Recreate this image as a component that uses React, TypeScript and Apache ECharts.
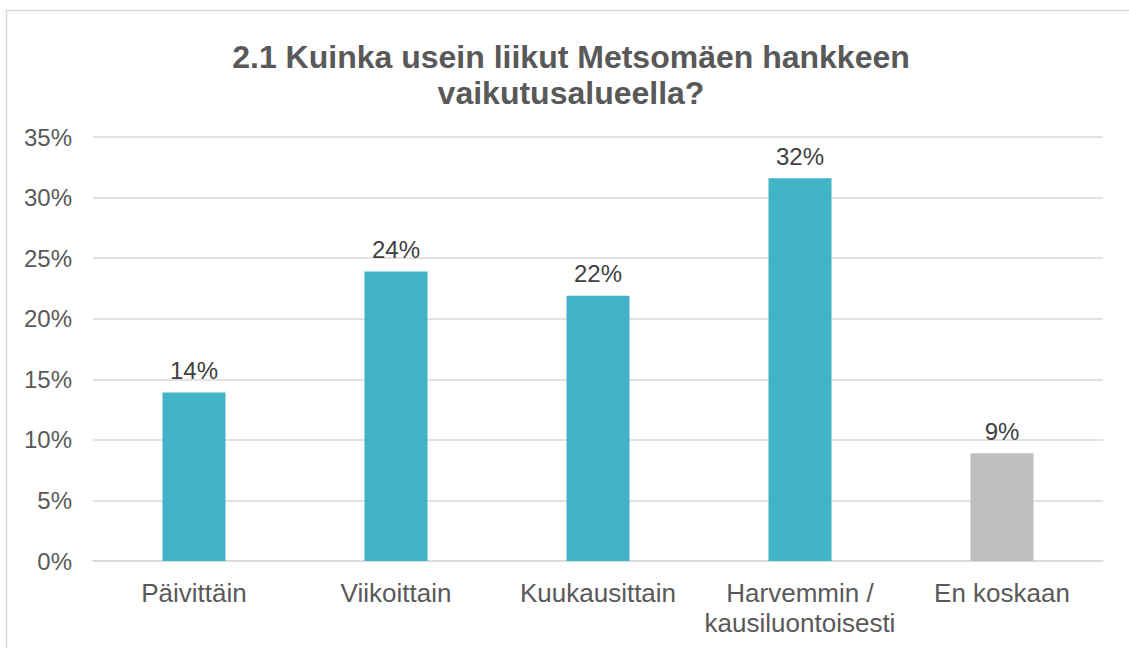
import React, { useEffect, useRef } from "react";
import * as echarts from "echarts";

const categories = ["Päivittäin", "Viikoittain", "Kuukausittain", "Harvemmin /\nkausiluontoisesti", "En koskaan"];
const values = [13.9, 23.9, 21.9, 31.6, 8.9];
const barColors = ["#43B3C7", "#43B3C7", "#43B3C7", "#43B3C7", "#BFBFBF"];
const titleText = "2.1 Kuinka usein liikut Metsomäen hankkeen\nvaikutusalueella?";

const FONT = "Liberation Sans, Arial, sans-serif";

export default function App() {
  const ref = useRef<HTMLDivElement>(null);
  useEffect(() => {
    if (!ref.current) return;
    const chart = echarts.init(ref.current, null, { renderer: "svg" });
    chart.setOption({
      animation: false,
      backgroundColor: "#ffffff",
      title: {
        text: titleText,
        left: 566,
        textAlign: "center",
        top: 34,
        textStyle: {
          fontFamily: FONT,
          fontSize: 32,
          fontWeight: "bold",
          color: "#595959",
          lineHeight: 36,
        },
      },
      graphic: [
        {
          type: "rect",
          shape: { x: 6.5, y: 10.5, width: 1200, height: 700 },
          style: { fill: "none", stroke: "#D9D9D9", lineWidth: 1.5 },
          silent: true,
          z: -1,
        },
      ],
      grid: { left: 93, right: 26, top: 137, bottom: 87, containLabel: false },
      xAxis: {
        type: "category",
        data: categories,
        axisLine: { show: true, lineStyle: { color: "#D9D9D9", width: 1.5 } },
        axisTick: { show: false },
        axisLabel: {
          fontFamily: FONT,
          fontSize: 26,
          color: "#595959",
          margin: 17,
          lineHeight: 30,
          interval: 0,
        },
      },
      yAxis: {
        type: "value",
        min: 0,
        max: 35,
        interval: 5,
        axisLine: { show: false },
        axisTick: { show: false },
        splitLine: { lineStyle: { color: "#D9D9D9", width: 1.5 } },
        axisLabel: {
          formatter: (v: number) => v + "%",
          fontFamily: FONT,
          fontSize: 24,
          color: "#595959",
          margin: 21,
        },
      },
      series: [
        {
          type: "bar",
          data: values.map((v, i) => ({ value: v, itemStyle: { color: barColors[i] } })),
          barWidth: 63,
          label: {
            show: true,
            position: "top",
            distance: 10,
            formatter: (p: any) => Math.round(p.value) + "%",
            fontFamily: FONT,
            fontSize: 24,
            color: "#404040",
          },
        },
      ],
    });
    return () => chart.dispose();
  }, []);
  return (
    <div
      ref={ref}
      style={{ position: "fixed", left: 0, top: 0, width: 1129, height: 648 }}
    />
  );
}
